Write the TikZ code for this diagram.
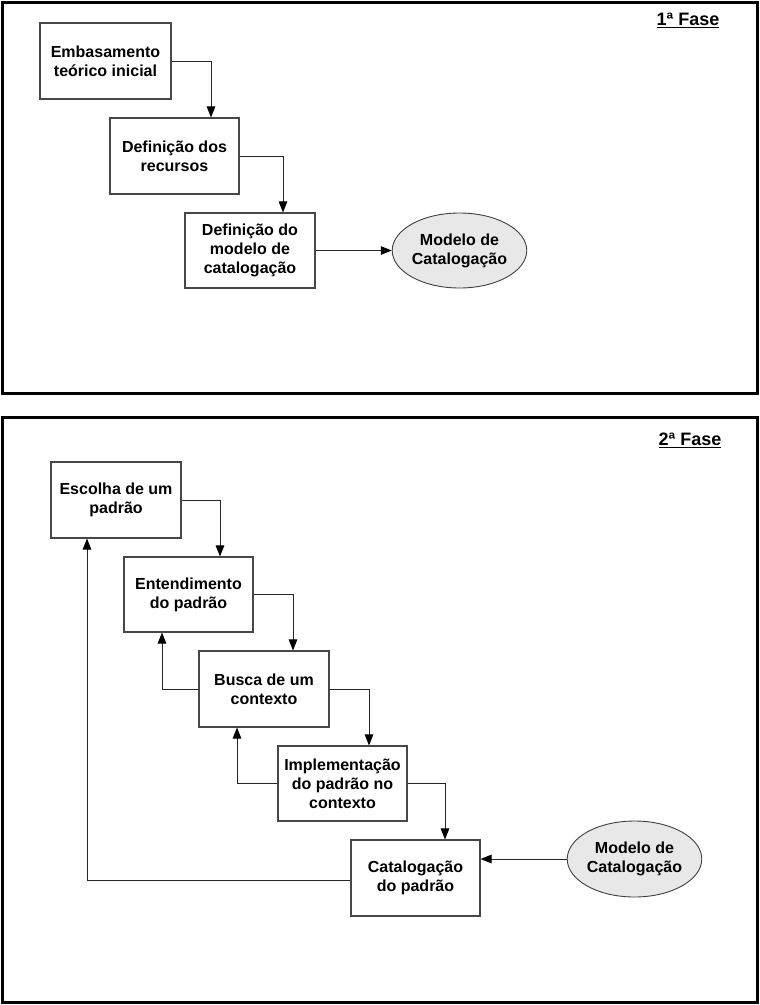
\documentclass[tikz,border=0pt]{standalone}
\usepackage{fontspec}
\setmainfont{Liberation Sans}
\usetikzlibrary{arrows.meta,shapes.geometric}
\tikzset{
  stepbox/.style={draw=black!72, line width=1.1pt, rectangle, minimum width=130pt, minimum height=76pt, inner sep=2pt, align=center, font=\fontsize{16}{19}\selectfont\bfseries},
  modelbox/.style={draw=black!75, line width=0.9pt, ellipse, fill=black!9, minimum width=133pt, minimum height=76pt, inner sep=0pt, align=center, font=\fontsize{16}{19}\selectfont\bfseries},
  link/.style={draw=black!85, line width=1pt, -{Triangle[length=11pt,width=8.5pt,color=black]}},
  frame/.style={draw=black, line width=3pt},
  phase/.style={font=\fontsize{18}{20}\selectfont\bfseries}
}
\begin{document}
\begin{tikzpicture}[x=1pt,y=-1pt]
\useasboundingbox (0,0) rectangle (760,1005);
\draw[frame] (2.5,2.5) rectangle (757,393.5);
\draw[frame] (2.5,417.5) rectangle (757.5,1002.5);
\node[phase] (f1) at (688,20) {\underline{1ª Fase}};
\node[phase] (f2) at (690,440) {\underline{2ª Fase}};
% phase 1
\node[stepbox, minimum width=131pt] (e1) at (105.5,61) {Embasamento\\teórico inicial};
\node[stepbox, minimum width=129pt] (e2) at (174.5,156) {Definição dos\\recursos};
\node[stepbox, minimum height=75pt] (e3) at (250,250.5) {Definição do\\modelo de\\catalogação};
\node[modelbox, minimum height=75pt] (m1) at (459.5,250.5) {Modelo de\\Catalogação};
\draw[link] (e1.east) -| ([xshift=36.5pt]e2.north);
\draw[link] (e2.east) -| ([xshift=33pt]e3.north);
\draw[link] (e3.east) -- (m1.west);
% phase 2
\node[stepbox] (p1) at (116,500) {Escolha de um\\padrão};
\node[stepbox, minimum width=129pt, minimum height=75pt] (p2) at (188.5,594.5) {Entendimento\\do padrão};
\node[stepbox] (p3) at (264,689) {Busca de um\\contexto};
\node[stepbox, minimum width=129pt, minimum height=75pt] (p4) at (342.5,783.5) {Implementação\\do padrão no\\contexto};
\node[stepbox, minimum width=129pt] (p5) at (415.5,878) {Catalogação\\do padrão};
\node[modelbox] (m2) at (634.5,859) {Modelo de\\Catalogação};
\draw[link] (p1.east) -| ([xshift=31.5pt]p2.north);
\draw[link] (p2.east) -| ([xshift=29pt]p3.north);
\draw[link] (p3.east) -| ([xshift=26.5pt]p4.north);
\draw[link] (p4.east) -| ([xshift=29.5pt]p5.north);
\draw[link] (p3.west) -| ([xshift=-26.5pt]p2.south);
\draw[link] (p4.west) -| ([xshift=-27pt]p3.south);
\draw[link] ([yshift=-2pt]p5.west) -| ([xshift=-29pt]p1.south);
\draw[link] (m2.west) -- (m2.west -| p5.east);
\end{tikzpicture}
\end{document}
